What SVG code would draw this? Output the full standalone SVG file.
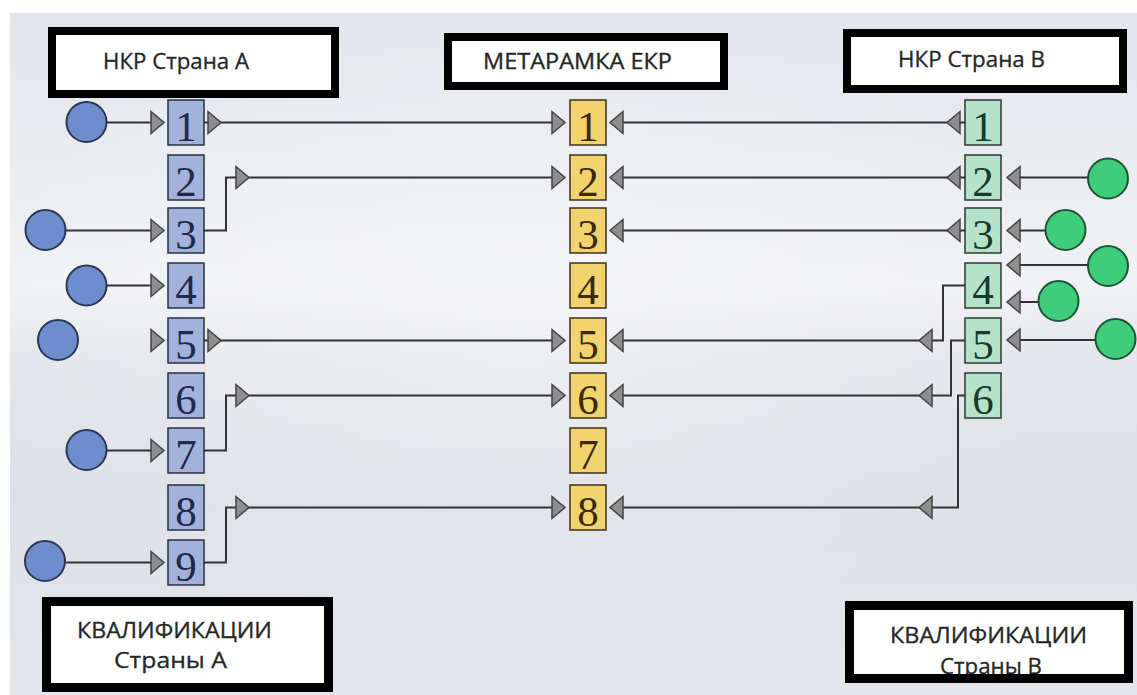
<svg xmlns="http://www.w3.org/2000/svg" xmlns:xlink="http://www.w3.org/1999/xlink" width="1137" height="695" viewBox="0 0 1137 695">
<style>
.tb{fill:#ffffff;stroke:#000000;stroke-width:8}
.tb9{fill:#ffffff;stroke:#000000;stroke-width:9}
.lbl{font-family:"Open Sans","Liberation Sans",sans-serif;font-size:21px;fill:#262626;stroke:#262626;stroke-width:0.3}
.num{font-family:"Liberation Serif","DejaVu Serif",serif;font-size:43px;text-anchor:middle}
.ba{fill:#a3b2da;stroke:#2a2f40;stroke-width:1.5}
.by{fill:#f3d36d;stroke:#3a3020;stroke-width:1.5}
.bb{fill:#b6e2cb;stroke:#2a3a30;stroke-width:1.5}
.na{fill:#1d2a4c}
.ny{fill:#3a2a10}
.nb{fill:#183a28}
.ca{fill:#6f8dcc;stroke:#2b3756;stroke-width:2}
.cb{fill:#3fcd7c;stroke:#1d5636;stroke-width:2}
.ln{fill:none;stroke:#333333;stroke-width:2}
.ar{fill:#8e8e8e;stroke:#444444;stroke-width:1.5;stroke-linejoin:miter}
</style>
<defs>
<linearGradient id="bg" x1="0" y1="0" x2="0" y2="1">
<stop offset="0" stop-color="#e3e5eb"/>
<stop offset="0.3" stop-color="#eceef2"/>
<stop offset="0.4" stop-color="#f1f2f5"/>
<stop offset="0.5" stop-color="#e4e6eb"/>
<stop offset="0.7" stop-color="#dde0e6"/>
<stop offset="1" stop-color="#e4e6eb"/>
</linearGradient>
<radialGradient id="glow" cx="0.45" cy="0.45" r="0.5">
<stop offset="0" stop-color="#ffffff" stop-opacity="0.35"/>
<stop offset="1" stop-color="#ffffff" stop-opacity="0"/>
</radialGradient>
<path id="aR" d="M0,-11 L13,0 L0,11 Z"/>
<path id="aL" d="M0,-11 L-13,0 L0,11 Z"/>
</defs>
<rect x="0" y="0" width="1137" height="695" fill="#ffffff"/>
<rect x="10" y="13" width="1127" height="682" fill="url(#bg)"/>
<rect x="10" y="13" width="1127" height="682" fill="url(#glow)"/>

<g id="connectors">
<line class="ln" x1="107" y1="122.5" x2="152" y2="122.5"/>
<line class="ln" x1="66" y1="230.5" x2="152" y2="230.5"/>
<line class="ln" x1="107" y1="285.5" x2="152" y2="285.5"/>
<line class="ln" x1="107" y1="450.5" x2="152" y2="450.5"/>
<line class="ln" x1="66" y1="562.5" x2="152" y2="562.5"/>
<use href="#aR" class="ar" x="151" y="122.5"/>
<use href="#aR" class="ar" x="151" y="230.5"/>
<use href="#aR" class="ar" x="151" y="285.5"/>
<use href="#aR" class="ar" x="151" y="340.5"/>
<use href="#aR" class="ar" x="151" y="450.5"/>
<use href="#aR" class="ar" x="151" y="562.5"/>
<line class="ln" x1="204" y1="122.5" x2="552" y2="122.5"/>
<polyline class="ln" points="204,230.5 226,230.5 226,177.5 552,177.5"/>
<line class="ln" x1="204" y1="340.5" x2="552" y2="340.5"/>
<polyline class="ln" points="204,450.5 226,450.5 226,395.5 552,395.5"/>
<polyline class="ln" points="204,562.5 226,562.5 226,507.5 552,507.5"/>
<use href="#aR" class="ar" x="208" y="122.5"/>
<use href="#aR" class="ar" x="236" y="177.5"/>
<use href="#aR" class="ar" x="208" y="340.5"/>
<use href="#aR" class="ar" x="236" y="395.5"/>
<use href="#aR" class="ar" x="236" y="507.5"/>
<use href="#aR" class="ar" x="552" y="122.5"/>
<use href="#aR" class="ar" x="552" y="177.5"/>
<use href="#aR" class="ar" x="552" y="340.5"/>
<use href="#aR" class="ar" x="552" y="395.5"/>
<use href="#aR" class="ar" x="552" y="507.5"/>
<line class="ln" x1="965" y1="122.5" x2="623" y2="122.5"/>
<line class="ln" x1="965" y1="177.5" x2="623" y2="177.5"/>
<line class="ln" x1="965" y1="230.5" x2="623" y2="230.5"/>
<polyline class="ln" points="965,285.5 943,285.5 943,340.5 623,340.5"/>
<polyline class="ln" points="965,340.5 951,340.5 951,395.5 623,395.5"/>
<polyline class="ln" points="965,395.5 958,395.5 958,507.5 623,507.5"/>
<use href="#aL" class="ar" x="960" y="122.5"/>
<use href="#aL" class="ar" x="960" y="177.5"/>
<use href="#aL" class="ar" x="960" y="230.5"/>
<use href="#aL" class="ar" x="932" y="340.5"/>
<use href="#aL" class="ar" x="932" y="395.5"/>
<use href="#aL" class="ar" x="932" y="507.5"/>
<use href="#aL" class="ar" x="623" y="122.5"/>
<use href="#aL" class="ar" x="623" y="177.5"/>
<use href="#aL" class="ar" x="623" y="230.5"/>
<use href="#aL" class="ar" x="623" y="340.5"/>
<use href="#aL" class="ar" x="623" y="395.5"/>
<use href="#aL" class="ar" x="623" y="507.5"/>
<line class="ln" x1="1088" y1="177.5" x2="1020" y2="177.5"/>
<line class="ln" x1="1045" y1="230.5" x2="1020" y2="230.5"/>
<line class="ln" x1="1088" y1="265" x2="1020" y2="265"/>
<line class="ln" x1="1039" y1="302" x2="1020" y2="302"/>
<line class="ln" x1="1095" y1="340" x2="1020" y2="340"/>
<use href="#aL" class="ar" x="1020" y="177.5"/>
<use href="#aL" class="ar" x="1020" y="230.5"/>
<use href="#aL" class="ar" x="1020" y="265"/>
<use href="#aL" class="ar" x="1020" y="302"/>
<use href="#aL" class="ar" x="1020" y="340"/>
</g>

<g id="title-nkr-a">
<rect class="tb" x="52" y="31" width="283" height="63"/>
<text class="lbl" x="103" y="69" textLength="146" lengthAdjust="spacingAndGlyphs">НКР Страна A</text>
</g>
<g id="title-eqf">
<rect class="tb" x="448" y="37" width="276" height="49"/>
<text class="lbl" x="483" y="69" textLength="189" lengthAdjust="spacingAndGlyphs">МЕТАРАМКА ЕКР</text>
</g>
<g id="title-nkr-b">
<rect class="tb" x="847" y="33" width="276" height="56"/>
<text class="lbl" x="898" y="67" textLength="147" lengthAdjust="spacingAndGlyphs">НКР Страна B</text>
</g>
<g id="qual-a">
<rect class="tb9" x="46.5" y="601.5" width="282" height="86"/>
<text class="lbl" x="77" y="638" textLength="195" lengthAdjust="spacingAndGlyphs">КВАЛИФИКАЦИИ</text>
<text class="lbl" x="114" y="668" textLength="113" lengthAdjust="spacingAndGlyphs">Страны A</text>
</g>
<g id="qual-b">
<rect x="849.5" y="605.5" width="279" height="73" fill="#ffffff"/>
<text class="lbl" x="890" y="643" textLength="197" lengthAdjust="spacingAndGlyphs">КВАЛИФИКАЦИИ</text>
<text class="lbl" x="940" y="674" textLength="102" lengthAdjust="spacingAndGlyphs">Страны B</text>
<rect x="849.5" y="605.5" width="279" height="73" fill="none" stroke="#000000" stroke-width="9"/>
</g>

<g id="col-a">
<g id="a1"><rect class="ba" x="168" y="100" width="36" height="45"/><text class="num na" x="186" y="141">1</text></g>
<g id="a2"><rect class="ba" x="168" y="155" width="36" height="45"/><text class="num na" x="186" y="196">2</text></g>
<g id="a3"><rect class="ba" x="168" y="208" width="36" height="45"/><text class="num na" x="186" y="249">3</text></g>
<g id="a4"><rect class="ba" x="168" y="263" width="36" height="45"/><text class="num na" x="186" y="304">4</text></g>
<g id="a5"><rect class="ba" x="168" y="318" width="36" height="45"/><text class="num na" x="186" y="359">5</text></g>
<g id="a6"><rect class="ba" x="168" y="373" width="36" height="45"/><text class="num na" x="186" y="414">6</text></g>
<g id="a7"><rect class="ba" x="168" y="428" width="36" height="45"/><text class="num na" x="186" y="469">7</text></g>
<g id="a8"><rect class="ba" x="168" y="485" width="36" height="45"/><text class="num na" x="186" y="526">8</text></g>
<g id="a9"><rect class="ba" x="168" y="540" width="36" height="45"/><text class="num na" x="186" y="581">9</text></g>
</g>

<g id="col-eqf">
<g id="e1"><rect class="by" x="570" y="100" width="36" height="45"/><text class="num ny" x="588" y="141">1</text></g>
<g id="e2"><rect class="by" x="570" y="155" width="36" height="45"/><text class="num ny" x="588" y="196">2</text></g>
<g id="e3"><rect class="by" x="570" y="208" width="36" height="45"/><text class="num ny" x="588" y="249">3</text></g>
<g id="e4"><rect class="by" x="570" y="263" width="36" height="45"/><text class="num ny" x="588" y="304">4</text></g>
<g id="e5"><rect class="by" x="570" y="318" width="36" height="45"/><text class="num ny" x="588" y="359">5</text></g>
<g id="e6"><rect class="by" x="570" y="373" width="36" height="45"/><text class="num ny" x="588" y="414">6</text></g>
<g id="e7"><rect class="by" x="570" y="428" width="36" height="45"/><text class="num ny" x="588" y="469">7</text></g>
<g id="e8"><rect class="by" x="570" y="485" width="36" height="45"/><text class="num ny" x="588" y="526">8</text></g>
</g>

<g id="col-b">
<g id="b1"><rect class="bb" x="965" y="100" width="36" height="45"/><text class="num nb" x="983" y="141">1</text></g>
<g id="b2"><rect class="bb" x="965" y="155" width="36" height="45"/><text class="num nb" x="983" y="196">2</text></g>
<g id="b3"><rect class="bb" x="965" y="208" width="36" height="45"/><text class="num nb" x="983" y="249">3</text></g>
<g id="b4"><rect class="bb" x="965" y="263" width="36" height="45"/><text class="num nb" x="983" y="304">4</text></g>
<g id="b5"><rect class="bb" x="965" y="318" width="36" height="45"/><text class="num nb" x="983" y="359">5</text></g>
<g id="b6"><rect class="bb" x="965" y="373" width="36" height="45"/><text class="num nb" x="983" y="414">6</text></g>
</g>

<g id="circles-a">
<circle id="ca1" class="ca" cx="86.5" cy="122" r="20"/>
<circle id="ca3" class="ca" cx="45.5" cy="230" r="20"/>
<circle id="ca4" class="ca" cx="86.5" cy="285.5" r="20"/>
<circle id="ca5" class="ca" cx="58" cy="340" r="20"/>
<circle id="ca7" class="ca" cx="86.5" cy="450" r="20"/>
<circle id="ca9" class="ca" cx="45" cy="561" r="20"/>
</g>
<g id="circles-b">
<circle id="cb2" class="cb" cx="1108" cy="178.5" r="20"/>
<circle id="cb3" class="cb" cx="1065.5" cy="230" r="20"/>
<circle id="cb4a" class="cb" cx="1108" cy="266" r="20"/>
<circle id="cb4b" class="cb" cx="1058.5" cy="301" r="20"/>
<circle id="cb5" class="cb" cx="1115.5" cy="339" r="20"/>
</g>
</svg>
